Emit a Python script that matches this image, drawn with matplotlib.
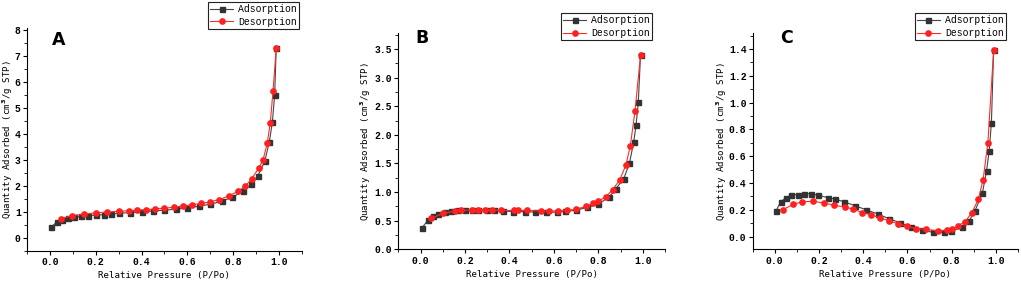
import numpy as np
import matplotlib
matplotlib.use('Agg')
import matplotlib.pyplot as plt
from matplotlib.ticker import MultipleLocator

# tick labels in the reference are a bold mono/serif face
plt.rcParams['font.family'] = ['Liberation Mono', 'DejaVu Sans Mono']
plt.rcParams['font.weight'] = 'bold'
plt.rcParams['mathtext.fontset'] = 'dejavusans'

# ---- data ----
# panel A
a_ads_x = [0.007, 0.03, 0.055, 0.08, 0.105, 0.135, 0.165, 0.2, 0.235, 0.265, 0.3, 0.35, 0.4, 0.45,
           0.5, 0.55, 0.6, 0.65, 0.7, 0.75, 0.795, 0.845, 0.878, 0.908, 0.938, 0.958, 0.971, 0.981, 0.988]
a_ads_y = [0.42, 0.6, 0.70, 0.75, 0.78, 0.82, 0.85, 0.87, 0.89, 0.91, 0.94, 0.97, 1.0, 1.03,
           1.06, 1.10, 1.15, 1.21, 1.29, 1.40, 1.56, 1.79, 2.05, 2.38, 2.94, 3.70, 4.44, 5.48, 7.30]
a_des_x = [0.048, 0.097, 0.148, 0.2, 0.25, 0.3, 0.345, 0.38, 0.42, 0.46, 0.5, 0.54, 0.58, 0.62,
           0.66, 0.7, 0.74, 0.78, 0.82, 0.853, 0.88, 0.912, 0.93, 0.949, 0.962, 0.974, 0.988]
a_des_y = [0.74, 0.85, 0.91, 0.96, 0.99, 1.02, 1.04, 1.06, 1.08, 1.11, 1.14, 1.17, 1.22, 1.27,
           1.32, 1.38, 1.47, 1.61, 1.78, 1.99, 2.25, 2.69, 2.98, 3.65, 4.42, 5.65, 7.30]

# panel B
b_ads_x = [0.008, 0.033, 0.056, 0.079, 0.109, 0.139, 0.169, 0.2, 0.23, 0.26, 0.298, 0.33, 0.37,
           0.418, 0.471, 0.517, 0.566, 0.615, 0.648, 0.698, 0.75, 0.8, 0.85, 0.879, 0.914, 0.94,
           0.959, 0.97, 0.98, 0.99]
b_ads_y = [0.38, 0.51, 0.58, 0.62, 0.65, 0.67, 0.68, 0.68, 0.68, 0.68, 0.68, 0.68, 0.67,
           0.66, 0.66, 0.65, 0.65, 0.65, 0.665, 0.68, 0.735, 0.79, 0.92, 1.06, 1.23, 1.5,
           1.87, 2.17, 2.57, 3.40]
b_des_x = [0.048, 0.101, 0.154, 0.18, 0.23, 0.26, 0.29, 0.32, 0.36, 0.42, 0.44, 0.48, 0.54, 0.58,
           0.62, 0.66, 0.698, 0.746, 0.778, 0.80, 0.834, 0.864, 0.896, 0.924, 0.944, 0.965, 0.99]
b_des_y = [0.54, 0.63, 0.665, 0.68, 0.69, 0.69, 0.69, 0.69, 0.68, 0.68, 0.68, 0.68, 0.67, 0.67,
           0.67, 0.68, 0.70, 0.75, 0.805, 0.84, 0.92, 1.04, 1.21, 1.47, 1.81, 2.41, 3.39]

# panel C
c_ads_x = [0.005, 0.027, 0.05, 0.073, 0.103, 0.133, 0.164, 0.194, 0.242, 0.273, 0.314, 0.364,
           0.414, 0.465, 0.515, 0.565, 0.614, 0.664, 0.715, 0.765, 0.795, 0.845, 0.879, 0.906,
           0.939, 0.958, 0.97, 0.98, 0.99]
c_ads_y = [0.19, 0.26, 0.29, 0.31, 0.314, 0.32, 0.32, 0.31, 0.29, 0.28, 0.26, 0.23,
           0.20, 0.17, 0.135, 0.105, 0.072, 0.05, 0.032, 0.032, 0.04, 0.07, 0.117, 0.194,
           0.324, 0.49, 0.64, 0.85, 1.39]
c_des_x = [0.035, 0.083, 0.124, 0.174, 0.223, 0.27, 0.318, 0.356, 0.394, 0.436, 0.477, 0.518,
           0.558, 0.598, 0.639, 0.682, 0.739, 0.777, 0.803, 0.83, 0.861, 0.891, 0.921, 0.942,
           0.964, 0.99]
c_des_y = [0.20, 0.24, 0.26, 0.264, 0.25, 0.234, 0.22, 0.205, 0.18, 0.165, 0.137, 0.12,
           0.095, 0.077, 0.06, 0.055, 0.042, 0.047, 0.055, 0.082, 0.112, 0.177, 0.279, 0.42,
           0.70, 1.39]

panels = [
    ('A', a_ads_x, a_ads_y, a_des_x, a_des_y),
    ('B', b_ads_x, b_ads_y, b_des_x, b_des_y),
    ('C', c_ads_x, c_ads_y, c_des_x, c_des_y),
]

# layout (figure fractions) and axis settings per panel
rects = [[0.0264, 0.117, 0.2693, 0.783],
         [0.3901, 0.122, 0.2612, 0.762],
         [0.7372, 0.122, 0.2598, 0.762]]
ylims = [(-0.5, 8.05), (0, 3.78), (-0.095, 1.52)]
ymajor = [1, 0.5, 0.2]
yfmt = ['%d', '%.1f', '%.1f']
label_x = [-0.045, -0.095, -0.088]
letter_pos = [(0.09, 0.99), (0.063, 1.02), (0.103, 1.02)]
leg_anchor = [(0.2929, 0.993), (0.6386, 0.954), (0.985, 0.954)]

label_font = dict(family='DejaVu Sans Mono', size=6.6, fontweight='normal')

fig = plt.figure(figsize=(10.21, 2.84), dpi=100)

for i, (letter, ax_x, ax_y, dx, dy) in enumerate(panels):
    ax = fig.add_axes(rects[i])
    ax.plot(ax_x, ax_y, color='#444444', lw=0.8, marker='s', ms=3.6,
            mfc='#333333', mec='#333333', label='Adsorption')
    ax.plot(dx, dy, color='#ff2a2a', lw=0.8, marker='o', ms=3.8,
            mfc='#ff2020', mec='#ff2020', label='Desorption')

    ax.set_xlim(-0.1, 1.1)
    ax.set_ylim(*ylims[i])
    ax.xaxis.set_major_locator(MultipleLocator(0.2))
    ax.xaxis.set_minor_locator(MultipleLocator(0.1))
    ax.yaxis.set_major_locator(MultipleLocator(ymajor[i]))
    ax.yaxis.set_minor_locator(MultipleLocator(ymajor[i] / 2))
    ax.yaxis.set_major_formatter(plt.FormatStrFormatter(yfmt[i]))
    ax.xaxis.set_major_formatter(plt.FormatStrFormatter('%.1f'))

    for s in ['top', 'right']:
        ax.spines[s].set_visible(False)
    for s in ['left', 'bottom']:
        ax.spines[s].set_linewidth(0.8)
    ax.tick_params(which='major', direction='out', length=3, width=0.8, pad=1.5, labelsize=7)
    ax.tick_params(which='minor', direction='out', length=2, width=0.6)

    ax.set_xlabel('Relative Pressure (P/Po)', labelpad=3, **label_font)
    ax.set_ylabel('Quantity Adsorbed (cm$^3$/g STP)', **label_font)
    ax.yaxis.set_label_coords(label_x[i], 0.5)

    ax.text(letter_pos[i][0], letter_pos[i][1], letter, transform=ax.transAxes,
            fontsize=12.5, fontweight='bold', family='DejaVu Sans', va='top', ha='left')

    leg = ax.legend(loc='upper right', bbox_to_anchor=leg_anchor[i],
                    bbox_transform=fig.transFigure, fancybox=False, framealpha=1,
                    edgecolor='#222222',
                    prop=dict(family='Liberation Mono', size=7, weight='normal'),
                    handlelength=2.4, handletextpad=0.5, borderpad=0.2,
                    labelspacing=0.3, borderaxespad=0)
    leg.get_frame().set_linewidth(0.8)

fig.savefig('out.png', dpi=100)
